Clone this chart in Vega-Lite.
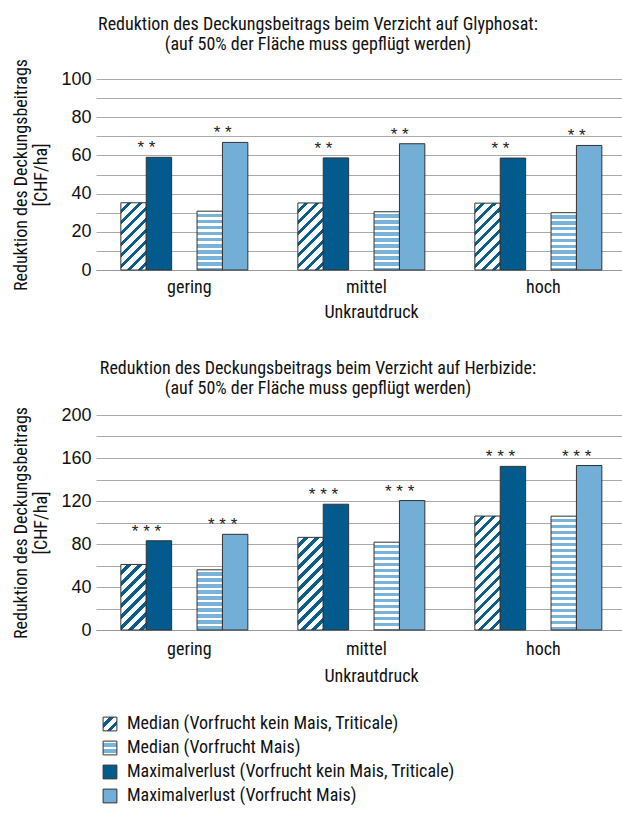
{
  "$schema": "https://vega.github.io/schema/vega-lite/v6.json",
  "background": "white",
  "padding": {"top": 16, "left": 12, "right": 0, "bottom": 0},
  "params": [
    {"name": "hatch", "value": [
      {"offset": 0, "color": "#ffffff"}, {"offset": 0.0462, "color": "#ffffff"}, {"offset": 0.0462, "color": "#0a5e8e"}, {"offset": 0.0769, "color": "#0a5e8e"},
      {"offset": 0.0769, "color": "#ffffff"}, {"offset": 0.1231, "color": "#ffffff"}, {"offset": 0.1231, "color": "#0a5e8e"}, {"offset": 0.1538, "color": "#0a5e8e"},
      {"offset": 0.1538, "color": "#ffffff"}, {"offset": 0.2, "color": "#ffffff"}, {"offset": 0.2, "color": "#0a5e8e"}, {"offset": 0.2308, "color": "#0a5e8e"},
      {"offset": 0.2308, "color": "#ffffff"}, {"offset": 0.2769, "color": "#ffffff"}, {"offset": 0.2769, "color": "#0a5e8e"}, {"offset": 0.3077, "color": "#0a5e8e"},
      {"offset": 0.3077, "color": "#ffffff"}, {"offset": 0.3538, "color": "#ffffff"}, {"offset": 0.3538, "color": "#0a5e8e"}, {"offset": 0.3846, "color": "#0a5e8e"},
      {"offset": 0.3846, "color": "#ffffff"}, {"offset": 0.4308, "color": "#ffffff"}, {"offset": 0.4308, "color": "#0a5e8e"}, {"offset": 0.4615, "color": "#0a5e8e"},
      {"offset": 0.4615, "color": "#ffffff"}, {"offset": 0.5077, "color": "#ffffff"}, {"offset": 0.5077, "color": "#0a5e8e"}, {"offset": 0.5385, "color": "#0a5e8e"},
      {"offset": 0.5385, "color": "#ffffff"}, {"offset": 0.5846, "color": "#ffffff"}, {"offset": 0.5846, "color": "#0a5e8e"}, {"offset": 0.6154, "color": "#0a5e8e"},
      {"offset": 0.6154, "color": "#ffffff"}, {"offset": 0.6615, "color": "#ffffff"}, {"offset": 0.6615, "color": "#0a5e8e"}, {"offset": 0.6923, "color": "#0a5e8e"},
      {"offset": 0.6923, "color": "#ffffff"}, {"offset": 0.7385, "color": "#ffffff"}, {"offset": 0.7385, "color": "#0a5e8e"}, {"offset": 0.7692, "color": "#0a5e8e"},
      {"offset": 0.7692, "color": "#ffffff"}, {"offset": 0.8154, "color": "#ffffff"}, {"offset": 0.8154, "color": "#0a5e8e"}, {"offset": 0.8462, "color": "#0a5e8e"},
      {"offset": 0.8462, "color": "#ffffff"}, {"offset": 0.8923, "color": "#ffffff"}, {"offset": 0.8923, "color": "#0a5e8e"}, {"offset": 0.9231, "color": "#0a5e8e"},
      {"offset": 0.9231, "color": "#ffffff"}, {"offset": 0.9692, "color": "#ffffff"}, {"offset": 0.9692, "color": "#0a5e8e"}, {"offset": 1, "color": "#0a5e8e"}
    ]},
    {"name": "stripe", "value": [
      {"offset": 0, "color": "#ffffff"}, {"offset": 0.02, "color": "#ffffff"}, {"offset": 0.02, "color": "#7ab3d9"}, {"offset": 0.05, "color": "#7ab3d9"},
      {"offset": 0.05, "color": "#ffffff"}, {"offset": 0.07, "color": "#ffffff"}, {"offset": 0.07, "color": "#7ab3d9"}, {"offset": 0.1, "color": "#7ab3d9"},
      {"offset": 0.1, "color": "#ffffff"}, {"offset": 0.12, "color": "#ffffff"}, {"offset": 0.12, "color": "#7ab3d9"}, {"offset": 0.15, "color": "#7ab3d9"},
      {"offset": 0.15, "color": "#ffffff"}, {"offset": 0.17, "color": "#ffffff"}, {"offset": 0.17, "color": "#7ab3d9"}, {"offset": 0.2, "color": "#7ab3d9"},
      {"offset": 0.2, "color": "#ffffff"}, {"offset": 0.22, "color": "#ffffff"}, {"offset": 0.22, "color": "#7ab3d9"}, {"offset": 0.25, "color": "#7ab3d9"},
      {"offset": 0.25, "color": "#ffffff"}, {"offset": 0.27, "color": "#ffffff"}, {"offset": 0.27, "color": "#7ab3d9"}, {"offset": 0.3, "color": "#7ab3d9"},
      {"offset": 0.3, "color": "#ffffff"}, {"offset": 0.32, "color": "#ffffff"}, {"offset": 0.32, "color": "#7ab3d9"}, {"offset": 0.35, "color": "#7ab3d9"},
      {"offset": 0.35, "color": "#ffffff"}, {"offset": 0.37, "color": "#ffffff"}, {"offset": 0.37, "color": "#7ab3d9"}, {"offset": 0.4, "color": "#7ab3d9"},
      {"offset": 0.4, "color": "#ffffff"}, {"offset": 0.42, "color": "#ffffff"}, {"offset": 0.42, "color": "#7ab3d9"}, {"offset": 0.45, "color": "#7ab3d9"},
      {"offset": 0.45, "color": "#ffffff"}, {"offset": 0.47, "color": "#ffffff"}, {"offset": 0.47, "color": "#7ab3d9"}, {"offset": 0.5, "color": "#7ab3d9"},
      {"offset": 0.5, "color": "#ffffff"}, {"offset": 0.52, "color": "#ffffff"}, {"offset": 0.52, "color": "#7ab3d9"}, {"offset": 0.55, "color": "#7ab3d9"},
      {"offset": 0.55, "color": "#ffffff"}, {"offset": 0.57, "color": "#ffffff"}, {"offset": 0.57, "color": "#7ab3d9"}, {"offset": 0.6, "color": "#7ab3d9"},
      {"offset": 0.6, "color": "#ffffff"}, {"offset": 0.62, "color": "#ffffff"}, {"offset": 0.62, "color": "#7ab3d9"}, {"offset": 0.65, "color": "#7ab3d9"},
      {"offset": 0.65, "color": "#ffffff"}, {"offset": 0.67, "color": "#ffffff"}, {"offset": 0.67, "color": "#7ab3d9"}, {"offset": 0.7, "color": "#7ab3d9"},
      {"offset": 0.7, "color": "#ffffff"}, {"offset": 0.72, "color": "#ffffff"}, {"offset": 0.72, "color": "#7ab3d9"}, {"offset": 0.75, "color": "#7ab3d9"},
      {"offset": 0.75, "color": "#ffffff"}, {"offset": 0.77, "color": "#ffffff"}, {"offset": 0.77, "color": "#7ab3d9"}, {"offset": 0.8, "color": "#7ab3d9"},
      {"offset": 0.8, "color": "#ffffff"}, {"offset": 0.82, "color": "#ffffff"}, {"offset": 0.82, "color": "#7ab3d9"}, {"offset": 0.85, "color": "#7ab3d9"},
      {"offset": 0.85, "color": "#ffffff"}, {"offset": 0.87, "color": "#ffffff"}, {"offset": 0.87, "color": "#7ab3d9"}, {"offset": 0.9, "color": "#7ab3d9"},
      {"offset": 0.9, "color": "#ffffff"}, {"offset": 0.92, "color": "#ffffff"}, {"offset": 0.92, "color": "#7ab3d9"}, {"offset": 0.95, "color": "#7ab3d9"},
      {"offset": 0.95, "color": "#ffffff"}, {"offset": 0.97, "color": "#ffffff"}, {"offset": 0.97, "color": "#7ab3d9"}, {"offset": 1, "color": "#7ab3d9"}
    ]}
  ],
  "config": {
    "font": "Liberation Sans Narrow, Roboto Condensed, DejaVu Sans Condensed, sans-serif",
    "view": {"stroke": null},
    "axisX": {"domainColor": "#999999", "domainWidth": 1, "ticks": false, "grid": false, "labelAngle": 0, "labelFontSize": 18, "labelColor": "#111111", "labelPadding": 8, "labelOffset": 5, "titleFontSize": 18, "titleFontWeight": "normal", "titleColor": "#111111", "titlePadding": 7, "titleX": 275},
    "axisY": {"domain": false, "ticks": false, "grid": true, "gridColor": "#aaaaaa", "gridWidth": 1, "labelFont": "Liberation Sans", "labelFontSize": 18, "labelColor": "#111111", "labelPadding": 5, "titleFontSize": 18, "titleFontWeight": "normal", "titleColor": "#111111", "titleLineHeight": 20, "titlePadding": 10},
    "title": {"fontSize": 18, "fontWeight": "normal", "color": "#111111", "lineHeight": 20, "anchor": "middle", "frame": "bounds"},
    "legend": {"labelFontSize": 18, "labelColor": "#111111"}
  },
  "datasets": {
    "glyphosat": [
      {"g": "gering", "s": "m1", "series": "Median (Vorfrucht kein Mais, Triticale)", "v": 35.2, "sig": ""},
      {"g": "gering", "s": "x1", "series": "Maximalverlust (Vorfrucht kein Mais, Triticale)", "v": 59.0, "sig": "* *"},
      {"g": "gering", "s": "m2", "series": "Median (Vorfrucht Mais)", "v": 30.8, "sig": ""},
      {"g": "gering", "s": "x2", "series": "Maximalverlust (Vorfrucht Mais)", "v": 66.8, "sig": "* *"},
      {"g": "mittel", "s": "m1", "series": "Median (Vorfrucht kein Mais, Triticale)", "v": 35.1, "sig": ""},
      {"g": "mittel", "s": "x1", "series": "Maximalverlust (Vorfrucht kein Mais, Triticale)", "v": 58.7, "sig": "* *"},
      {"g": "mittel", "s": "m2", "series": "Median (Vorfrucht Mais)", "v": 30.5, "sig": ""},
      {"g": "mittel", "s": "x2", "series": "Maximalverlust (Vorfrucht Mais)", "v": 66.1, "sig": "* *"},
      {"g": "hoch", "s": "m1", "series": "Median (Vorfrucht kein Mais, Triticale)", "v": 35.0, "sig": ""},
      {"g": "hoch", "s": "x1", "series": "Maximalverlust (Vorfrucht kein Mais, Triticale)", "v": 58.6, "sig": "* *"},
      {"g": "hoch", "s": "m2", "series": "Median (Vorfrucht Mais)", "v": 30.0, "sig": ""},
      {"g": "hoch", "s": "x2", "series": "Maximalverlust (Vorfrucht Mais)", "v": 65.2, "sig": "* *"}
    ],
    "herbizide": [
      {"g": "gering", "s": "m1", "series": "Median (Vorfrucht kein Mais, Triticale)", "v": 61.0, "sig": ""},
      {"g": "gering", "s": "x1", "series": "Maximalverlust (Vorfrucht kein Mais, Triticale)", "v": 83.0, "sig": "* * *"},
      {"g": "gering", "s": "m2", "series": "Median (Vorfrucht Mais)", "v": 56.0, "sig": ""},
      {"g": "gering", "s": "x2", "series": "Maximalverlust (Vorfrucht Mais)", "v": 89.0, "sig": "* * *"},
      {"g": "mittel", "s": "m1", "series": "Median (Vorfrucht kein Mais, Triticale)", "v": 86.2, "sig": ""},
      {"g": "mittel", "s": "x1", "series": "Maximalverlust (Vorfrucht kein Mais, Triticale)", "v": 117.0, "sig": "* * *"},
      {"g": "mittel", "s": "m2", "series": "Median (Vorfrucht Mais)", "v": 81.7, "sig": ""},
      {"g": "mittel", "s": "x2", "series": "Maximalverlust (Vorfrucht Mais)", "v": 120.4, "sig": "* * *"},
      {"g": "hoch", "s": "m1", "series": "Median (Vorfrucht kein Mais, Triticale)", "v": 106.0, "sig": ""},
      {"g": "hoch", "s": "x1", "series": "Maximalverlust (Vorfrucht kein Mais, Triticale)", "v": 152.2, "sig": "* * *"},
      {"g": "hoch", "s": "m2", "series": "Median (Vorfrucht Mais)", "v": 105.9, "sig": ""},
      {"g": "hoch", "s": "x2", "series": "Maximalverlust (Vorfrucht Mais)", "v": 153.0, "sig": "* * *"}
    ]
  },
  "spacing": 39,
  "vconcat": [
    {
      "data": {"name": "glyphosat"},
      "title": {"text": ["Reduktion des Deckungsbeitrags beim Verzicht auf Glyphosat:", "(auf 50% der Fläche muss gepflügt werden)"], "offset": 4},
      "width": 527,
      "height": 191,
      "encoding": {
        "x": {"field": "g", "type": "nominal", "sort": ["gering", "mittel", "hoch"], "scale": {"paddingInner": 0.2825, "paddingOuter": 0.13, "align": 0.54}, "axis": {"title": "Unkrautdruck"}},
        "xOffset": {"field": "s", "type": "nominal", "scale": {"domain": ["m1", "x1", "gap", "m2", "x2"], "paddingInner": 0, "paddingOuter": 0}},
        "y": {"field": "v", "type": "quantitative", "scale": {"domain": [0, 100], "nice": false}, "axis": {"values": [0, 10, 20, 30, 40, 50, 60, 70, 80, 90, 100], "labelExpr": "datum.value % 20 === 0 ? datum.label : ''", "title": ["Reduktion des Deckungsbeitrags", "[CHF/ha]"]}}
      },
      "layer": [
        {
          "mark": {"type": "bar", "stroke": "#333333", "strokeWidth": 1},
          "encoding": {
            "fill": {
              "field": "series", "type": "nominal",
              "scale": {"domain": ["Median (Vorfrucht kein Mais, Triticale)", "Median (Vorfrucht Mais)", "Maximalverlust (Vorfrucht kein Mais, Triticale)", "Maximalverlust (Vorfrucht Mais)"],
                        "range": [{"expr": "{gradient: 'linear', x1: 0, y1: 0, x2: 5.1, y2: 5.1, stops: hatch}"}, {"expr": "{gradient: 'linear', x1: 0, y1: 0, x2: 0, y2: 8.6, stops: stripe}"}, "#035a8d", "#72aed6"]},
              "legend": {"title": null, "orient": "none", "legendX": 5, "legendY": 636, "direction": "vertical", "symbolType": "square", "symbolSize": 190, "symbolStrokeColor": "#333333", "symbolStrokeWidth": 1, "labelFontSize": 18, "labelLimit": 500, "rowPadding": 6, "labelOffset": 8, "padding": 0},
              "condition": [
                {"test": "datum.s === 'm1'", "value": {"expr": "{gradient: 'linear', x1: 0, y1: 0, x2: 0.707, y2: 1.867, stops: hatch}"}},
                {"test": "datum.s === 'm2'", "value": {"expr": "{gradient: 'linear', x1: 0, y1: 0, x2: 0, y2: 2.06, stops: stripe}"}}
              ]
            }
          }
        },
        {
          "mark": {"type": "text", "font": "Liberation Sans", "fontSize": 17, "dx": -12.5, "dy": -4, "baseline": "alphabetic", "color": "#222222"},
          "encoding": {"text": {"field": "sig"}}
        }
      ]
    },
    {
      "data": {"name": "herbizide"},
      "title": {"text": ["Reduktion des Deckungsbeitrags beim Verzicht auf Herbizide:", "(auf 50% der Fläche muss gepflügt werden)"], "offset": 8},
      "width": 527,
      "height": 215,
      "encoding": {
        "x": {"field": "g", "type": "nominal", "sort": ["gering", "mittel", "hoch"], "scale": {"paddingInner": 0.2825, "paddingOuter": 0.13, "align": 0.54}, "axis": {"title": "Unkrautdruck", "labelPadding": 10, "titlePadding": 9}},
        "xOffset": {"field": "s", "type": "nominal", "scale": {"domain": ["m1", "x1", "gap", "m2", "x2"], "paddingInner": 0, "paddingOuter": 0}},
        "y": {"field": "v", "type": "quantitative", "scale": {"domain": [0, 200], "nice": false}, "axis": {"values": [0, 20, 40, 60, 80, 100, 120, 140, 160, 180, 200], "labelExpr": "datum.value % 40 === 0 ? datum.label : ''", "title": ["Reduktion des Deckungsbeitrags", "[CHF/ha]"]}}
      },
      "layer": [
        {
          "mark": {"type": "bar", "stroke": "#333333", "strokeWidth": 1},
          "encoding": {
            "fill": {
              "field": "series", "type": "nominal",
              "scale": {"domain": ["Median (Vorfrucht kein Mais, Triticale)", "Median (Vorfrucht Mais)", "Maximalverlust (Vorfrucht kein Mais, Triticale)", "Maximalverlust (Vorfrucht Mais)"],
                        "range": [{"expr": "{gradient: 'linear', x1: 0, y1: 0, x2: 5.1, y2: 5.1, stops: hatch}"}, {"expr": "{gradient: 'linear', x1: 0, y1: 0, x2: 0, y2: 8.6, stops: stripe}"}, "#035a8d", "#72aed6"]},
              "legend": {"title": null, "orient": "none", "legendX": 5, "legendY": 636, "direction": "vertical", "symbolType": "square", "symbolSize": 190, "symbolStrokeColor": "#333333", "symbolStrokeWidth": 1, "labelFontSize": 18, "labelLimit": 500, "rowPadding": 6, "labelOffset": 8, "padding": 0},
              "condition": [
                {"test": "datum.s === 'm1' && datum.g === 'gering'", "value": {"expr": "{gradient: 'linear', x1: 0, y1: 0, x2: 0.734, y2: 1.895, stops: hatch}"}},
                {"test": "datum.s === 'm1' && datum.g === 'mittel'", "value": {"expr": "{gradient: 'linear', x1: 0, y1: 0, x2: 0.394, y2: 1.436, stops: hatch}"}},
                {"test": "datum.s === 'm1' && datum.g === 'hoch'", "value": {"expr": "{gradient: 'linear', x1: 0, y1: 0, x2: 0.266, y2: 1.194, stops: hatch}"}},
                {"test": "datum.s === 'm2' && datum.g === 'gering'", "value": {"expr": "{gradient: 'linear', x1: 0, y1: 0, x2: 0, y2: 2.0, stops: stripe}"}},
                {"test": "datum.s === 'm2' && datum.g === 'mittel'", "value": {"expr": "{gradient: 'linear', x1: 0, y1: 0, x2: 0, y2: 1.367, stops: stripe}"}},
                {"test": "datum.s === 'm2' && datum.g === 'hoch'", "value": {"expr": "{gradient: 'linear', x1: 0, y1: 0, x2: 0, y2: 1.054, stops: stripe}"}}
              ]
            }
          }
        },
        {
          "mark": {"type": "text", "font": "Liberation Sans", "fontSize": 17, "dx": -12.5, "dy": -4, "baseline": "alphabetic", "color": "#222222"},
          "encoding": {"text": {"field": "sig"}}
        }
      ]
    }
  ]
}
